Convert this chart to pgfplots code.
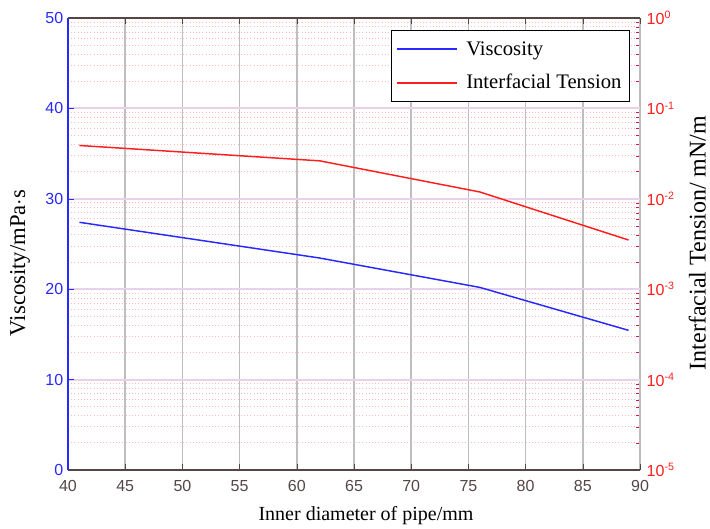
\documentclass[border=0pt]{standalone}
\usepackage{fontspec}
\setmainfont{Liberation Serif}
\newfontfamily\arial{Liberation Sans}
\usepackage{pgfplots}
\pgfplotsset{compat=1.18}

\definecolor{vblue}{RGB}{40,40,255}
\definecolor{tred}{RGB}{255,30,30}
\definecolor{rax}{RGB}{215,20,80}
\definecolor{gridv}{RGB}{190,190,190}
\definecolor{gridh}{RGB}{232,210,235}
\definecolor{gridm}{RGB}{255,185,185}
\definecolor{xax}{RGB}{85,70,70}

\pgfplotsset{
  base/.style={
    scale only axis, width=429pt, height=339pt,
    xmin=40, xmax=90, at={(0,0)}, anchor=south west,
    tick align=inside,
    /pgf/number format/assume math mode=true,
    tick label style={font=\arial\fontsize{12}{14}\selectfont},
  },
}

\begin{document}
\begin{tikzpicture}
% log axis: minor grid and right spine
\begin{axis}[base,
    ymode=log, ymin=1e-5, ymax=1,
    axis x line=none, axis y line*=right,
    ytick={1e-5,1e-4,1e-3,1e-2,1e-1,1},
    yticklabels={10\textsuperscript{-5},10\textsuperscript{-4},10\textsuperscript{-3},10\textsuperscript{-2},10\textsuperscript{-1},10\textsuperscript{0}},
    yticklabel style={tred, xshift=1.5pt},
    y axis line style={rax, line width=0.9pt},
    ytick style={rax},
    yminorgrids, minor grid style={gridm, dotted, line width=0.7pt},
    ylabel={Interfacial Tension/ mN/m},
    ylabel style={font=\fontsize{18}{20}\selectfont, at={(axis description cs:1,0.502)}, anchor=center, yshift=-43pt},
  ]
  \addplot[draw=none, forget plot] coordinates {(41,0.01)};
\end{axis}
% linear axis: major grid, viscosity
\begin{axis}[base,
    ymin=0, ymax=50,
    axis y line*=left,
    xtick={40,45,...,90}, ytick={0,10,...,50},
    xticklabel style={xax, yshift=-4pt},
    yticklabel style={vblue},
    x axis line style={xax, line width=0.9pt},
    y axis line style={vblue, line width=0.9pt},
    xtick style={xax}, ytick style={vblue},
    xmajorgrids, ymajorgrids,
    x grid style={gridv, line width=1.1pt},
    y grid style={gridh, line width=1.5pt},
    xlabel={Inner diameter of pipe/mm},
    xlabel style={font=\fontsize{15}{17}\selectfont, at={(axis description cs:0.521,0)}, anchor=center, yshift=-34.5pt},
    ylabel={Viscosity/mPa$\cdot$s},
    ylabel style={font=\fontsize{17}{19}\selectfont, at={(axis description cs:0,0.458)}, anchor=center, yshift=36pt},
  ]
  \addplot[vblue, line width=1.1pt] coordinates {(41,27.4) (62,23.45) (76,20.2) (89,15.45)};
  \coordinate (sw) at (rel axis cs:0,0);
  \coordinate (ne) at (rel axis cs:1,1);
\end{axis}
% log axis: interfacial tension and legend
\begin{axis}[base,
    ymode=log, ymin=1e-5, ymax=1,
    hide axis,
    legend style={at={(0.9825,0.973)}, anchor=north east, draw=black, line width=0.8pt,
      font=\fontsize{15.5}{17}\selectfont, row sep=9pt, column sep=4pt,
      inner xsep=4pt, inner ysep=6pt,
      nodes={line width=0.4pt}},
    legend cell align=left,
    legend image code/.code={\draw[#1, line width=1.4pt] (0pt,0pt) -- (45pt,0pt);},
  ]
  \addlegendimage{vblue}
  \addlegendentry{Viscosity}
  \addplot[tred, line width=1.1pt] coordinates {(41,0.0389) (62,0.0263) (76,0.0119) (89,0.0035)};
  \addlegendentry{Interfacial Tension}
\end{axis}
\pgfresetboundingbox
\path[use as bounding box] ([shift={(-51pt,-43.5pt)}]sw) rectangle ([shift={(52.5pt,13.5pt)}]ne);
\end{tikzpicture}
\end{document}
